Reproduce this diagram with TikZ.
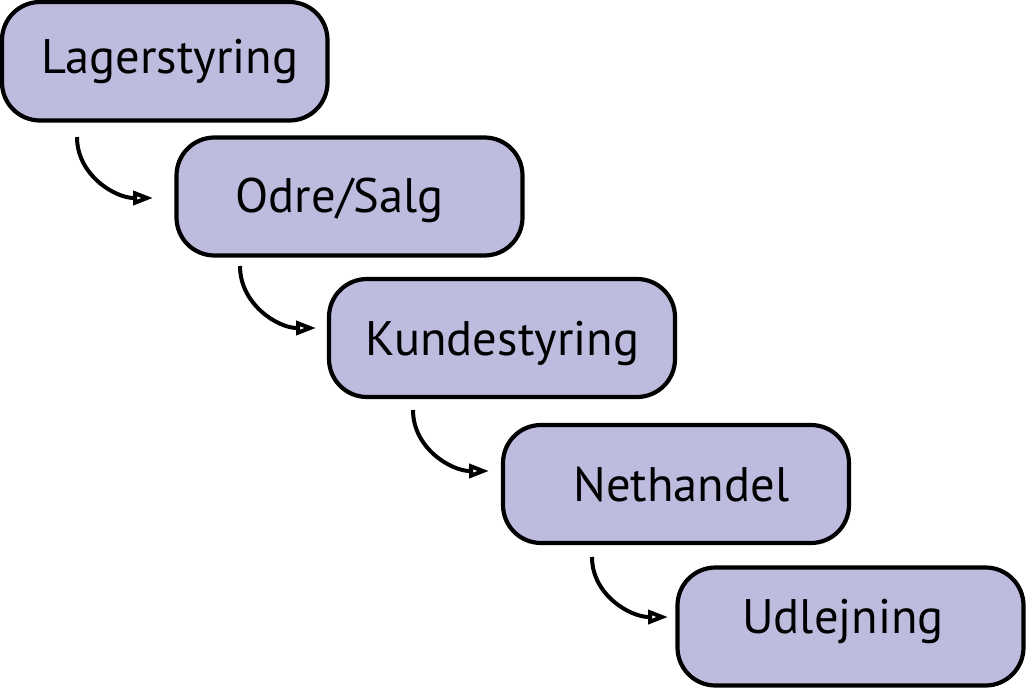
\documentclass[tikz,border=0pt]{standalone}
\usepackage{fontspec}
\setmainfont{PT Sans}
\usetikzlibrary{arrows.meta}
\definecolor{boxfill}{RGB}{189,187,222}
\begin{document}
\begin{tikzpicture}[x=1pt,y=-1pt,
  stepbox/.style={draw=black, line width=4.2pt, fill=boxfill, rounded corners=38pt,
    rectangle, minimum height=118pt, minimum width=346pt, anchor=north west,
    inner sep=0pt, outer sep=0pt},
  lbl/.style={font=\fontsize{48.5}{58}\selectfont, anchor=base, inner sep=0pt},
  flow/.style={line width=4pt, -{Triangle[fill=white,length=20pt,width=14pt,line width=4pt]}}
]
\useasboundingbox (0,0) rectangle (1026,688);

\node[stepbox, minimum width=325.5pt, minimum height=118.5pt] (b1) at (2,2) {};
\node[stepbox] (b2) at (176.5,137.5) {};
\node[stepbox] (b3) at (329,279) {};
\node[stepbox] (b4) at (503,425) {};
\node[stepbox] (b5) at (677.5,567.5) {};

\node[lbl] (t1) at (170,73) {Lagerstyring};
\node[lbl] (t2) at (339.5,212) {Odre/Salg};
\node[lbl] (t3) at (502.5,355) {Kundestyring};
\node[lbl] (t4) at (681.5,501) {Nethandel};
\node[lbl] (t5) at (843,633) {Udlejning};

\coordinate (s1) at (77,137);   \coordinate (e1) at (153,198);
\coordinate (s2) at (240,266);  \coordinate (e2) at (316,328);
\coordinate (s3) at (413,410);  \coordinate (e3) at (489,471);
\coordinate (s4) at (592,557);  \coordinate (e4) at (668,617);

\draw[flow] (s1) to[out=-90,in=180] (e1);
\draw[flow] (s2) to[out=-90,in=180] (e2);
\draw[flow] (s3) to[out=-90,in=180] (e3);
\draw[flow] (s4) to[out=-90,in=180] (e4);
\end{tikzpicture}
\end{document}
